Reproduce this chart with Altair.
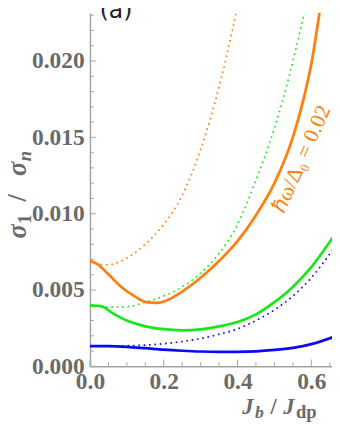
import altair as alt
import pandas as pd

# ---------------- data ----------------
xs_orange_solid = [0.0, 0.02, 0.047, 0.09, 0.12, 0.153, 0.18, 0.206, 0.25, 0.30, 0.35, 0.40, 0.45, 0.50, 0.55, 0.58, 0.60, 0.625, 0.645]
ys_orange_solid = [0.0069, 0.0067, 0.0061, 0.0051, 0.0046, 0.0042, 0.00415, 0.0043, 0.0049, 0.0058, 0.0069, 0.0082, 0.0099, 0.0120, 0.0150, 0.0176, 0.0198, 0.0236, 0.0268]

xs_orange_dot = [0.0, 0.047, 0.1, 0.15, 0.2, 0.25, 0.3, 0.34, 0.37, 0.40, 0.42]
ys_orange_dot = [0.0068, 0.00665, 0.0071, 0.0080, 0.0093, 0.0112, 0.0142, 0.0174, 0.0203, 0.0236, 0.0260]

xs_green_solid = [0.0, 0.03, 0.06, 0.1, 0.15, 0.2, 0.25, 0.3, 0.35, 0.4, 0.45, 0.5, 0.55, 0.6, 0.66]
ys_green_solid = [0.0040, 0.00395, 0.0035, 0.0030, 0.00262, 0.00243, 0.00236, 0.00242, 0.00262, 0.0029, 0.0034, 0.0042, 0.0052, 0.0065, 0.0085]

xs_green_dot = [0.0, 0.05, 0.1, 0.15, 0.2, 0.25, 0.3, 0.35, 0.40, 0.45, 0.50, 0.54, 0.57, 0.585, 0.60]
ys_green_dot = [0.0040, 0.00388, 0.0039, 0.0042, 0.0046, 0.0052, 0.0061, 0.0074, 0.0093, 0.0122, 0.0156, 0.0190, 0.0220, 0.0236, 0.0253]

xs_blue_solid = [0.0, 0.05, 0.1, 0.15, 0.2, 0.25, 0.3, 0.35, 0.4, 0.45, 0.5, 0.55, 0.6, 0.66]
ys_blue_solid = [0.00132, 0.00132, 0.00128, 0.00119, 0.00109, 0.00102, 0.00097, 0.00095, 0.00095, 0.00098, 0.00107, 0.00121, 0.00145, 0.00192]

xs_blue_dot = [0.0, 0.1, 0.2, 0.3, 0.35, 0.4, 0.45, 0.5, 0.55, 0.6, 0.66]
ys_blue_dot = [0.00132, 0.00135, 0.00148, 0.00182, 0.0021, 0.00245, 0.0030, 0.0037, 0.0046, 0.0058, 0.0077]

y_major = [0.0, 0.005, 0.010, 0.015, 0.020]
y_minor = [0.001, 0.002, 0.003, 0.004, 0.006, 0.007, 0.008, 0.009, 0.011, 0.012,
           0.013, 0.014, 0.016, 0.017, 0.018, 0.019, 0.021, 0.022, 0.023]
x_major = [0.0, 0.2, 0.4, 0.6]
x_minor = [0.05, 0.1, 0.15, 0.25, 0.3, 0.35, 0.45, 0.5, 0.55, 0.65]

annotation = "ℏω/Δ₀ = 0.02"
panel_label = "(a)"

# ---------------- layout ----------------
W, H = 248, 362
XMAX = 0.6561
YMAX = 0.023146
GRAY_AX = "#a3a3a3"
GRAY_TX = "#6a6a6a"
ORANGE = "#ff7f0e"
GREEN = "#18e818"
BLUE = "#0a0af5"
SERIF = "Liberation Serif"

xscale = alt.Scale(domain=[0, XMAX], nice=False, zero=False)
yscale = alt.Scale(domain=[0, YMAX], nice=False, zero=False)
xaxis = alt.Axis(values=x_major, format=".1f", title=None, grid=False, ticks=False,
                 tickSize=0, labelFont=SERIF, labelFontWeight="bold",
                 labelFontSize=24, labelColor=GRAY_TX, labelPadding=4,
                 domainColor=GRAY_AX, domainWidth=1.5, labelFlush=False)
yaxis = alt.Axis(values=y_major, format=".3f", title=None, grid=False, ticks=False,
                 tickSize=0, labelFont=SERIF, labelFontWeight="bold",
                 labelFontSize=24, labelColor=GRAY_TX, labelPadding=6,
                 domainColor=GRAY_AX, domainWidth=1.5, labelFlush=False)


def curve(xs, ys, color, dotted):
    df = pd.DataFrame({"x": xs, "y": ys})
    if dotted:
        m = alt.Chart(df).mark_line(color=color, strokeWidth=1.7, strokeDash=[1.7, 3.8],
                                    interpolate="monotone", clip=True)
    else:
        m = alt.Chart(df).mark_line(color=color, strokeWidth=2.8,
                                    interpolate="monotone", clip=True)
    return m.encode(x=alt.X("x:Q", scale=xscale, axis=xaxis),
                    y=alt.Y("y:Q", scale=yscale, axis=yaxis))


def yticks(vals, length):
    return alt.Chart(pd.DataFrame({"y": vals})).mark_rule(color=GRAY_AX, strokeWidth=1).encode(
        y=alt.Y("y:Q", scale=yscale, axis=yaxis), x=alt.value(0), x2=alt.value(length))


def xticks(vals, length):
    return alt.Chart(pd.DataFrame({"x": vals})).mark_rule(color=GRAY_AX, strokeWidth=1).encode(
        x=alt.X("x:Q", scale=xscale, axis=xaxis), y=alt.value(H), y2=alt.value(H - length))


def txt(s, px, py, size, italic=False, bold=True, angle=0, color=GRAY_TX,
        font=SERIF, align="left", baseline="alphabetic"):
    kw = dict(text=s, fontSize=size, font=font, color=color, align=align,
              baseline=baseline, angle=angle)
    if italic:
        kw["fontStyle"] = "italic"
    if bold:
        kw["fontWeight"] = "bold"
    return alt.Chart(pd.DataFrame({"a": [0]})).mark_text(**kw).encode(
        x=alt.value(px), y=alt.value(py))


layers = [
    yticks(y_minor, 4), yticks(y_major, 6),
    xticks(x_minor, 4), xticks(x_major, 7),
    curve(xs_orange_dot, ys_orange_dot, ORANGE, True),
    curve(xs_green_dot, ys_green_dot, GREEN, True),
    curve(xs_blue_dot, ys_blue_dot, BLUE, True),
    curve(xs_orange_solid, ys_orange_solid, ORANGE, False),
    curve(xs_green_solid, ys_green_solid, GREEN, False),
    curve(xs_blue_solid, ys_blue_solid, BLUE, False),
]

# x title: J_b / J_dp
layers += [
    txt("J", 156, 411, 23, italic=True),
    txt("b", 169, 415, 18, italic=True),
    txt("/", 185, 411, 23),
    txt("J", 198, 411, 23, italic=True),
    txt("dp", 211, 415, 19),
]

# y title: sigma_1 / sigma_n (rotated)
bx = -66
layers += [
    txt("σ", bx, 231, 27, italic=True, angle=270),
    txt("1", bx + 6, 216, 19, angle=270),
    txt("/", bx, 193, 27, angle=270),
    txt("σ", bx, 167, 27, italic=True, angle=270),
    txt("n", bx + 6, 152, 19, italic=True, angle=270),
]

# annotation along orange curve
layers += [
    txt(annotation, 199, 206, 22, bold=False, angle=294, color=ORANGE),
    txt(panel_label, 10, 5, 24, bold=False, color="#222222", font="DejaVu Sans"),
]

chart = alt.layer(*layers).properties(
    width=W, height=H, autosize="none",
    padding={"left": 84, "top": 0, "right": 0, "bottom": 56},
).configure_view(stroke=None)

chart.save("out.html", embed_options={"renderer": "svg", "actions": False})
